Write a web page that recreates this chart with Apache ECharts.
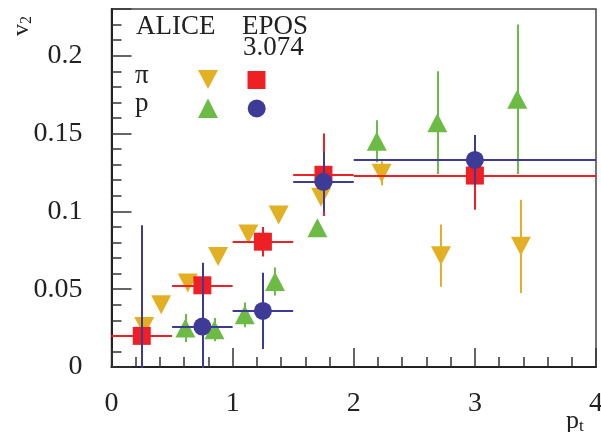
<!DOCTYPE html>
<html>
<head>
<meta charset="utf-8">
<script src="https://cdn.jsdelivr.net/npm/echarts@6/dist/echarts.min.js"></script>
<style>html,body{margin:0;padding:0;background:#fff;}#c{width:601px;height:432px;}</style>
</head>
<body>
<div id="c"></div>
<script>
// ALICE pions (down triangles)
const piALICE_x   = [0.27, 0.41, 0.63, 0.88, 1.13, 1.38, 1.73, 2.23, 2.72, 3.38];
const piALICE_y   = [0.026, 0.040, 0.054, 0.071, 0.0855, 0.0977, 0.109, 0.1245, 0.0715, 0.0775];
const piALICE_err = [0.003, 0.003, 0.003, 0.003, 0.003, 0.003, 0.004, 0.0077, 0.020, 0.030];
// ALICE protons (up triangles)
const pALICE_x   = [0.61, 0.85, 1.10, 1.35, 1.70, 2.19, 2.69, 3.35];
const pALICE_y   = [0.025, 0.024, 0.0335, 0.055, 0.0895, 0.145, 0.157, 0.172];
const pALICE_err = [0.009, 0.0075, 0.008, 0.009, 0.004, 0.0135, 0.033, 0.048];
// EPOS 3.074 pions (squares) with bin widths
const piEPOS_x   = [0.25, 0.75, 1.25, 1.75, 3.0];
const piEPOS_xlo = [0.0, 0.5, 1.0, 1.5, 2.0];
const piEPOS_xhi = [0.5, 1.0, 1.5, 2.0, 4.0];
const piEPOS_y   = [0.020, 0.0525, 0.0805, 0.1235, 0.123];
const piEPOS_err = [0.004, 0.004, 0.0095, 0.0265, 0.022];
// EPOS 3.074 protons (circles)
const pEPOS_x   = [0.25, 0.75, 1.25, 1.75, 3.0];
const pEPOS_xlo = [0.0, 0.5, 1.0, 1.5, 2.0];
const pEPOS_xhi = [0.5, 1.0, 1.5, 2.0, 4.0];
const pEPOS_y   = [-0.010, 0.026, 0.036, 0.119, 0.133];
const pEPOS_err = [0.101, 0.041, 0.0245, 0.019, 0.016];
// tick labels
const yMajorTicks = [0, 0.05, 0.1, 0.15, 0.2];

const C_YEL = '#e4b023', C_GRN = '#6cbb45', C_RED = '#ee2026', C_BLU = '#3e3b97';
const FONT = 'Liberation Serif';
// a dash longer than any tick: draws solid, and keeps the tick lines out of canvas path batching
const TICK_STYLE = { color: '#333', width: 1.5, type: [30, 2] };

function errSegments(xs, ys, es, xlo, xhi) {
  const segs = [];
  xs.forEach((x, i) => {
    segs.push({ coords: [[x, ys[i] - es[i]], [x, ys[i] + es[i]]] });
    if (xlo && xhi) segs.push({ coords: [[xlo[i], ys[i]], [xhi[i], ys[i]]] });
  });
  return segs;
}
function errSeries(name, data, color, z) {
  return { type: 'lines', name: name, coordinateSystem: 'cartesian2d', data: data, z: z,
           silent: true, clip: true, polyline: false, symbol: 'none', effect: { show: false },
           lineStyle: { color: color, width: 2, opacity: 1, curveness: 0 } };
}
function markSeries(name, xs, ys, symbol, size, color, z, rot) {
  return { type: 'scatter', name: name, data: xs.map((x, i) => [x, ys[i]]), symbol: symbol,
           symbolRotate: rot || 0, symbolSize: size, z: z, silent: true, clip: true,
           itemStyle: { color: color, opacity: 1 } };
}

const chart = echarts.init(document.getElementById('c'), null, { renderer: 'canvas' });
chart.setOption({
  animation: false,
  grid: { left: 111.5, right: 5, top: 9, bottom: 65, show: true, borderColor: '#444', borderWidth: 1.5,
          containLabel: false, outerBoundsMode: 'none' },
  xAxis: {
    type: 'value', min: 0, max: 4, interval: 1,
    axisLine: { show: true, onZero: false, lineStyle: { color: '#222', width: 2 } },
    axisTick: { show: true, inside: true, length: 19, lineStyle: TICK_STYLE },
    minorTick: { show: true, splitNumber: 5, length: 10, lineStyle: TICK_STYLE },
    splitLine: { show: false }, minorSplitLine: { show: false },
    axisLabel: { margin: 23, color: '#222', fontFamily: FONT, fontSize: 28 }
  },
  yAxis: {
    type: 'value', min: 0, max: 0.23, interval: 0.05,
    axisLine: { show: true, onZero: false, lineStyle: { color: '#222', width: 2 } },
    axisTick: { show: true, inside: true, length: 20, lineStyle: TICK_STYLE },
    minorTick: { show: true, splitNumber: 5, length: 10, lineStyle: TICK_STYLE },
    splitLine: { show: false }, minorSplitLine: { show: false },
    axisLabel: { margin: 29, color: '#222', fontFamily: FONT, fontSize: 28, customValues: yMajorTicks }
  },
  series: [
    markSeries('ALICE pi', piALICE_x, piALICE_y, 'triangle', [20, 19], C_YEL, 3, 180),
    markSeries('ALICE p', pALICE_x, pALICE_y, 'triangle', [20, 19], C_GRN, 5),
    markSeries('EPOS pi', piEPOS_x, piEPOS_y, 'rect', 18, C_RED, 7),
    markSeries('EPOS p', pEPOS_x, pEPOS_y, 'circle', 18, C_BLU, 9),
    errSeries('ALICE pi err', errSegments(piALICE_x, piALICE_y, piALICE_err), C_YEL, 2),
    errSeries('ALICE p err', errSegments(pALICE_x, pALICE_y, pALICE_err), C_GRN, 4),
    errSeries('EPOS pi err', errSegments(piEPOS_x, piEPOS_y, piEPOS_err, piEPOS_xlo, piEPOS_xhi), C_RED, 6),
    errSeries('EPOS p err', errSegments(pEPOS_x, pEPOS_y, pEPOS_err, pEPOS_xlo, pEPOS_xhi), C_BLU, 8)
  ],
  graphic: [
    { type: 'text', left: 136, top: 13, style: { text: 'ALICE', font: '27px "Liberation Serif"', fill: '#222' } },
    { type: 'text', left: 242, top: 13, style: { text: 'EPOS', font: '27px "Liberation Serif"', fill: '#222' } },
    { type: 'text', left: 243, top: 34, style: { text: '3.074', font: '27px "Liberation Serif"', fill: '#222' } },
    { type: 'text', left: 135, top: 62, style: { text: 'π', font: '27px "Liberation Serif"', fill: '#222' } },
    { type: 'text', left: 135, top: 90, style: { text: 'p', font: '27px "Liberation Serif"', fill: '#222' } },
    { type: 'polygon', shape: { points: [[198, 70], [218, 70], [208, 89]] }, style: { fill: C_YEL } },
    { type: 'rect', shape: { x: 247.5, y: 71, width: 18, height: 18 }, style: { fill: C_RED } },
    { type: 'polygon', shape: { points: [[198, 118], [218, 118], [208, 98.5]] }, style: { fill: C_GRN } },
    { type: 'circle', shape: { cx: 256.7, cy: 108.5, r: 9 }, style: { fill: C_BLU } },
    { type: 'text', x: 9, y: 36, rotation: Math.PI / 2,
      style: { text: '{v|v}{s|2}', fill: '#222',
               rich: { v: { fontFamily: FONT, fontSize: 24, fill: '#222' },
                       s: { fontFamily: FONT, fontSize: 16, fill: '#222', padding: [10, 0, 0, 0] } } } },
    { type: 'text', x: 566, y: 408,
      style: { text: '{v|p}{s|t}', fill: '#222',
               rich: { v: { fontFamily: FONT, fontSize: 26, fill: '#222' },
                       s: { fontFamily: FONT, fontSize: 17, fill: '#222', padding: [10, 0, 0, 0] } } } }
  ]
});
</script>
</body>
</html>
